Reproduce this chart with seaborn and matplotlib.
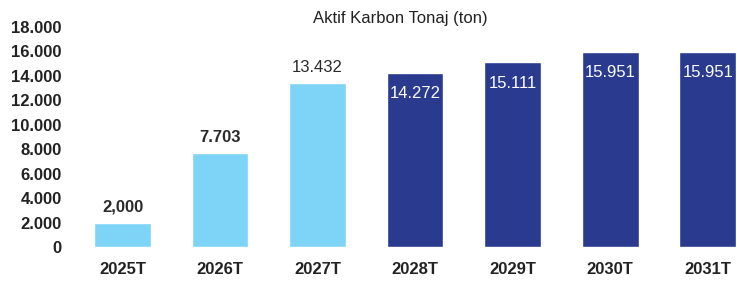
import matplotlib
matplotlib.use("Agg")
import matplotlib.pyplot as plt
import matplotlib.ticker as mticker
import seaborn as sns

# Verileri tanımla
years = ["2025T", "2026T", "2027T", "2028T", "2029T", "2030T", "2031T"]
tonnage = [2000, 7703, 13432, 14272, 15111, 15951, 15951]
value_labels = ["2,000", "7.703", "13.432", "14.272", "15.111", "15.951", "15.951"]
is_forecast = [False, False, False, True, True, True, True]

LIGHT = "#7dd4f6"
DARK = "#2a3b8f"

sns.set_style("white")
plt.rcParams["font.family"] = ["Liberation Sans", "DejaVu Sans"]

fig = plt.figure(figsize=(7.37, 2.84), dpi=100)
ax = fig.add_axes([70 / 737, 1 - 247 / 284, 667 / 737, 220 / 284])

colors = [DARK if f else LIGHT for f in is_forecast]
sns.barplot(x=years, y=tonnage, hue=years, palette=colors, legend=False,
            width=0.58, saturation=1, ax=ax)

ax.set_xlim(-0.54, 6.3)
ax.set_ylim(0, 18000)
ax.set_yticks(range(0, 18001, 2000))
ax.yaxis.set_major_formatter(
    mticker.FuncFormatter(lambda v, _: f"{int(v):,}".replace(",", ".")))
ax.tick_params(axis="both", length=0, labelsize=12, colors="#222222")
ax.tick_params(axis="y", pad=6)
ax.tick_params(axis="x", pad=11)
for lbl in ax.get_xticklabels() + ax.get_yticklabels():
    lbl.set_fontweight("bold")
ax.set_xlabel("")
ax.set_ylabel("")
sns.despine(ax=ax, left=True, bottom=True)

# Değer etiketleri
for i, (v, txt, f) in enumerate(zip(tonnage, value_labels, is_forecast)):
    if f:
        ax.annotate(txt, (i, v), xytext=(0, -15), textcoords="offset points",
                    ha="center", va="center", color="white", fontsize=12)
    else:
        ax.annotate(txt, (i, v), xytext=(0, 11), textcoords="offset points",
                    ha="center", va="center", color="#2a2a2a", fontsize=12,
                    fontweight="bold" if i < 2 else "normal")

fig.text(400 / 737, 1 - 19 / 284, "Aktif Karbon Tonaj (ton)",
         ha="center", va="center", fontsize=12, color="#222222")

fig.savefig("out.png", dpi=100)
